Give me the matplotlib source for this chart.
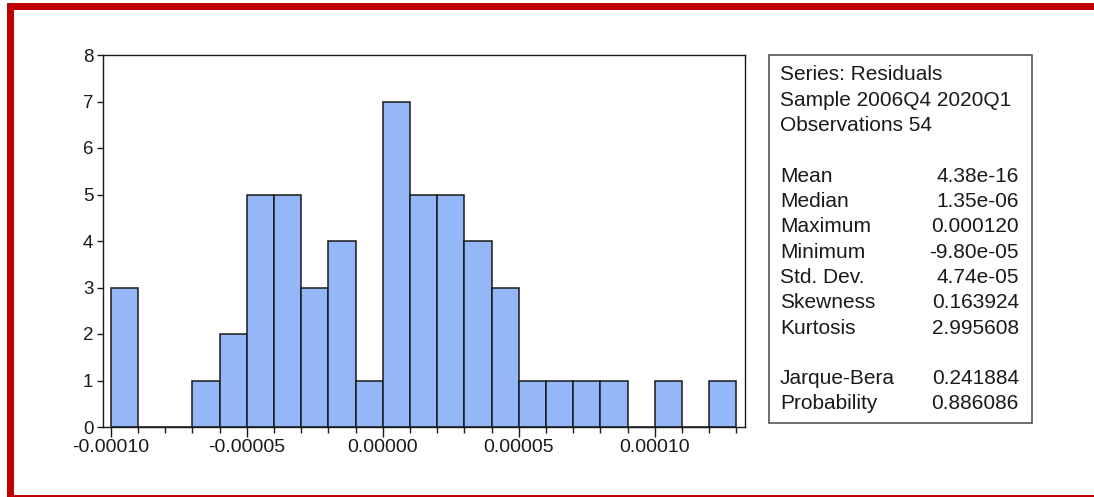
import numpy as np
import matplotlib
matplotlib.use('Agg')
import matplotlib.pyplot as plt
from matplotlib.patches import Rectangle

plt.rcParams['font.family'] = ['Liberation Sans', 'DejaVu Sans']

# Histogram data (bin width 1e-5)
BIN_WIDTH = 0.00001
bin_left = np.round(np.arange(-0.00010, 0.00013, BIN_WIDTH), 7)
counts = [3, 0, 0, 1, 2, 5, 5, 3, 4, 1, 7, 5, 5, 4, 3, 1, 1, 1, 1, 0, 1, 0, 1]

major_ticks = [-0.00010, -0.00005, 0.00000, 0.00005, 0.00010]
major_labels = ['-0.00010', '-0.00005', '0.00000', '0.00005', '0.00010']

# Summary statistics panel
stat_header = ['Series: Residuals', 'Sample 2006Q4 2020Q1', 'Observations 54']
stat_names = ['Mean', 'Median', 'Maximum', 'Minimum', 'Std. Dev.', 'Skewness', 'Kurtosis']
stat_values = ['4.38e-16', '1.35e-06', '0.000120', '-9.80e-05', '4.74e-05', '0.163924', '2.995608']
test_names = ['Jarque-Bera', 'Probability']
test_values = ['0.241884', '0.886086']

W, H = 1094, 497
fig = plt.figure(figsize=(W / 100, H / 100), dpi=100)

def fx(px):
    return px / W

def fy(py):
    return 1 - py / H

ax = fig.add_axes([fx(103), fy(427), fx(745) - fx(103), fy(55) - fy(427)])
ax.bar(bin_left, counts, width=BIN_WIDTH, align='edge', color='#94B8F7',
       edgecolor='#1a1a1a', linewidth=1.1)
ax.set_xlim(-0.0001029, 0.0001332)
ax.set_ylim(0, 8)
ax.set_yticks(range(0, 9))
ax.set_xticks(major_ticks)
ax.set_xticklabels(major_labels)
ax.set_xticks(np.append(bin_left, 0.00013), minor=True)
ax.tick_params(axis='x', which='major', length=7, width=1, labelsize=14, pad=2, colors='#1a1a1a')
ax.tick_params(axis='x', which='minor', length=4, width=1, colors='#1a1a1a')
ax.tick_params(axis='y', length=4, width=1, labelsize=13.5, pad=3, colors='#1a1a1a')
for sp in ax.spines.values():
    sp.set_linewidth(1)
    sp.set_color('#1a1a1a')

# stats box
fig.patches.append(Rectangle((fx(769), fy(423)), fx(1032) - fx(769), fy(55) - fy(423),
                             transform=fig.transFigure, facecolor='white',
                             edgecolor='#555555', linewidth=1.2))
line_h = 25.3
y0 = 75
fs = 15
for i, t in enumerate(stat_header):
    fig.text(fx(780), fy(y0 + i * line_h), t, fontsize=fs, va='center', ha='left', color='#1a1a1a')
for i, (n, v) in enumerate(zip(stat_names, stat_values)):
    yy = fy(y0 + (i + 4) * line_h)
    fig.text(fx(780), yy, n, fontsize=fs, va='center', ha='left', color='#1a1a1a')
    fig.text(fx(1019), yy, v, fontsize=fs, va='center', ha='right', color='#1a1a1a')
for i, (n, v) in enumerate(zip(test_names, test_values)):
    yy = fy(y0 + (i + 12) * line_h)
    fig.text(fx(780), yy, n, fontsize=fs, va='center', ha='left', color='#1a1a1a')
    fig.text(fx(1019), yy, v, fontsize=fs, va='center', ha='right', color='#1a1a1a')

# red frame
fig.patches.append(Rectangle((fx(9.5), fy(497.5)), fx(1096.5) - fx(9.5), fy(6.0) - fy(497.5),
                             transform=fig.transFigure, facecolor='none',
                             edgecolor='#C00000', linewidth=5.0))

fig.savefig('out.png', dpi=100)
